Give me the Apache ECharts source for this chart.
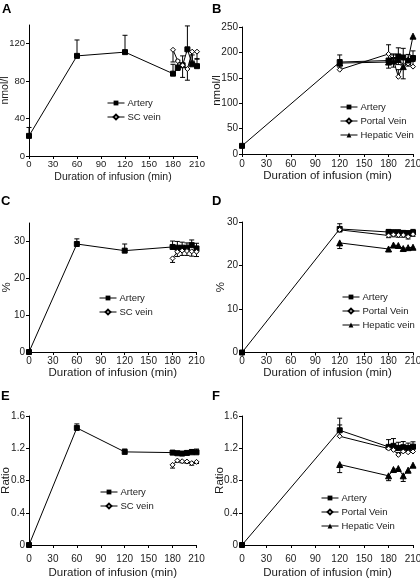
<!DOCTYPE html>
<html><head><meta charset="utf-8">
<script src="https://cdn.jsdelivr.net/npm/echarts@6/dist/echarts.min.js"></script>
<style>html,body{margin:0;padding:0;background:#fff}#c{width:420px;height:578px}</style>
</head><body><div id="c"></div>
<script>
// ---- time points (min) ----
const tArt3 = [0, 60, 120, 180, 186, 192, 198, 204, 210];
const tVein3 = [180, 186, 192, 198, 204, 210];
const tArtPV = [0, 120, 180, 186, 192, 198, 204, 210];
const tVeinPV = [120, 180, 186, 192, 198, 204, 210];

// ---- Panel A (nmol/l) ----
const A_artery = [21.5, 107, 111, 88, 94.5, 97, 114, 98, 96];
const A_artery_err = [9, 17, 18, 10, 8, 10, 25, 10, 8];
const A_sc = [113.5, 101.5, 97, 93, 111.5, 111.5];
const A_sc_err = [13, 10, 13, 12, 10, 8];

// ---- Panel B (nmol/l) ----
const B_artery = [16, 181, 184, 185, 192, 190, 181, 189];
const B_artery_err = [0, 14, 12, 10, 17, 18, 15, 14];
const B_portal = [166, 197, 185, 152, 175, 178, 172];
const B_portal_err = [8, 18, 12, 14, 12, 10, 10];
const B_hepatic = [179, 181, 183, 186, 172, 185, 232];
const B_hepatic_err = [8, 12, 12, 10, 24, 12, 0];

// ---- Panel C (%) ----
const C_artery = [0, 29.3, 27.5, 28.5, 28.3, 28.3, 28.3, 29.0, 28.1];
const C_artery_err = [0, 1.4, 1.8, 1.6, 1.7, 1.5, 1.3, 1.4, 1.4];
const C_sc = [25.4, 27.2, 27.5, 27.4, 27.3, 27.2];
const C_sc_err = [1.1, 1.3, 1.3, 1.2, 1.3, 1.3];

// ---- Panel D (%) ----
const D_artery = [0, 28.4, 27.7, 27.6, 27.6, 27.5, 27.4, 27.6];
const D_artery_err = [0, 1.2, 0.6, 0.6, 0.6, 0.5, 0.6, 0.7];
const D_portal = [28.2, 26.9, 27.1, 27.0, 27.0, 26.6, 27.2];
const D_portal_err = [0.5, 0.5, 0.5, 0.5, 0.5, 0.5, 0.5];
const D_hepatic = [25.2, 23.8, 24.7, 24.6, 23.9, 24.1, 24.2];
const D_hepatic_err = [1.3, 0.6, 0.4, 0.4, 0.5, 0.4, 0.4];

// ---- Panel E (Ratio) ----
const E_artery = [0, 1.452, 1.155, 1.146, 1.138, 1.134, 1.142, 1.15, 1.15];
const E_artery_err = [0, 0.05, 0.035, 0.025, 0.025, 0.025, 0.025, 0.035, 0.04];
const E_sc = [0.994, 1.047, 1.039, 1.035, 1.015, 1.031];
const E_sc_err = [0.04, 0.02, 0.02, 0.02, 0.025, 0.02];

// ---- Panel F (Ratio) ----
const F_artery = [0, 1.423, 1.217, 1.23, 1.204, 1.213, 1.204, 1.22];
const F_artery_err = [0, 0.15, 0.09, 0.09, 0.07, 0.07, 0.06, 0.06];
const F_portal = [1.349, 1.196, 1.18, 1.118, 1.16, 1.15, 1.16];
const F_portal_err = [0.14, 0.03, 0.03, 0.03, 0.03, 0.03, 0.03];
const F_hepatic = [0.998, 0.858, 0.936, 0.949, 0.858, 0.928, 0.99];
const F_hepatic_err = [0.1, 0.06, 0.02, 0.02, 0.07, 0.02, 0.02];

const FONT = 'Liberation Sans, Arial, Helvetica, sans-serif';
const INK = '#1a1a1a';

function pairs(t, v) { return t.map((x, i) => [x, v[i]]); }
function errs(t, v, e, dir) { return t.map((x, i) => [x, v[i], v[i] + dir * e[i]]).filter(d => d[1] !== d[2]); }

function renderErr(params, api) {
  const x = api.value(0), v = api.value(1), end = api.value(2);
  const a = api.coord([x, v]), b = api.coord([x, end]);
  return { type: 'group', children: [
    { type: 'line', shape: { x1: a[0], y1: a[1], x2: b[0], y2: b[1] }, style: { stroke: '#000', lineWidth: 1 } },
    { type: 'line', shape: { x1: b[0] - 2.5, y1: b[1], x2: b[0] + 2.5, y2: b[1] }, style: { stroke: '#000', lineWidth: 1 } }
  ] };
}

const MARK = {
  sq: { symbol: 'rect', symbolSize: 5, itemStyle: { color: '#000', borderColor: '#000' } },
  dia: { symbol: 'diamond', symbolSize: 5, itemStyle: { color: '#fff', borderColor: '#000', borderWidth: 1 } },
  tri: { symbol: 'triangle', symbolSize: 6, itemStyle: { color: '#000', borderColor: '#000' } }
};

const panels = [
  { letter: 'A', lx: 2, ly: 3, grid: { left: 29, top: 25, width: 168, height: 131 }, ymax: 140, yint: 40, yname: 'nmol/l', yGap: 18, xGap: 15.5, xMargin: 3, fs: 10.5, tfs: 9.5,
    legend: { left: 107, top: 98 },
    series: [
      { name: 'Artery', t: tArt3, v: A_artery, e: A_artery_err, dir: 1, m: 'sq' },
      { name: 'SC vein', t: tVein3, v: A_sc, e: A_sc_err, dir: -1, m: 'dia' }
    ] },
  { letter: 'B', lx: 212, ly: 3, grid: { left: 242, top: 27, width: 171, height: 127 }, ymax: 250, yint: 50, yname: 'nmol/l', yGap: 19.5, xGap: 16, xMargin: 5, fs: 11.5, tfs: 10,
    legend: { left: 340, top: 102 },
    series: [
      { name: 'Artery', t: tArtPV, v: B_artery, e: B_artery_err, dir: 1, m: 'sq' },
      { name: 'Portal Vein', t: tVeinPV, v: B_portal, e: B_portal_err, dir: 1, m: 'dia' },
      { name: 'Hepatic Vein', t: tVeinPV, v: B_hepatic, e: B_hepatic_err, dir: -1, m: 'tri' }
    ] },
  { letter: 'C', lx: 1, ly: 195, grid: { left: 29, top: 223, width: 167.5, height: 129 }, ymax: 35, yint: 10, yname: '%', yGap: 16, xGap: 15, xMargin: 4, fs: 11.5, tfs: 10,
    legend: { left: 99, top: 293 },
    series: [
      { name: 'Artery', t: tArt3, v: C_artery, e: C_artery_err, dir: 1, m: 'sq' },
      { name: 'SC vein', t: tVein3, v: C_sc, e: C_sc_err, dir: -1, m: 'dia' }
    ] },
  { letter: 'D', lx: 212, ly: 195, grid: { left: 242, top: 222, width: 171, height: 130.5 }, ymax: 30, yint: 10, yname: '%', yGap: 15, xGap: 14.5, xMargin: 4, fs: 11.5, tfs: 10,
    legend: { left: 342, top: 292 },
    series: [
      { name: 'Artery', t: tArtPV, v: D_artery, e: D_artery_err, dir: 1, m: 'sq' },
      { name: 'Portal Vein', t: tVeinPV, v: D_portal, e: D_portal_err, dir: -1, m: 'dia' },
      { name: 'Hepatic vein', t: tVeinPV, v: D_hepatic, e: D_hepatic_err, dir: -1, m: 'tri' }
    ] },
  { letter: 'E', lx: 1, ly: 390, grid: { left: 29, top: 416, width: 167.5, height: 129 }, ymax: 1.6, yint: 0.4, yname: 'Ratio', yGap: 17.5, xGap: 21.5, xMargin: 9, fs: 11.5, tfs: 10,
    legend: { left: 100, top: 487 },
    series: [
      { name: 'Artery', t: tArt3, v: E_artery, e: E_artery_err, dir: 1, m: 'sq' },
      { name: 'SC vein', t: tVein3, v: E_sc, e: E_sc_err, dir: -1, m: 'dia' }
    ] },
  { letter: 'F', lx: 212, ly: 390, grid: { left: 242, top: 416, width: 171, height: 129 }, ymax: 1.6, yint: 0.4, yname: 'Ratio', yGap: 16, xGap: 21.5, xMargin: 9, fs: 11.5, tfs: 10,
    legend: { left: 321, top: 493 },
    series: [
      { name: 'Artery', t: tArtPV, v: F_artery, e: F_artery_err, dir: 1, m: 'sq' },
      { name: 'Portal Vein', t: tVeinPV, v: F_portal, e: F_portal_err, dir: 1, m: 'dia' },
      { name: 'Hepatic Vein', t: tVeinPV, v: F_hepatic, e: F_hepatic_err, dir: -1, m: 'tri' }
    ] }
];

const option = { animation: false, backgroundColor: '#fff', textStyle: { fontFamily: FONT },
  grid: [], xAxis: [], yAxis: [], series: [], legend: [], title: [] };

panels.forEach((p, gi) => {
  option.grid.push(Object.assign({ containLabel: false, outerBoundsMode: 'none' }, p.grid));
  option.title.push({ text: p.letter, left: p.lx, top: p.ly, padding: 0,
    textStyle: { fontFamily: FONT, fontWeight: 'bold', fontSize: 13, color: '#000' } });
  option.xAxis.push({ type: 'value', gridIndex: gi, min: 0, max: 210, interval: 30,
    name: 'Duration of infusion (min)', nameLocation: 'middle', nameGap: p.xGap, nameMoveOverlap: false,
    nameTextStyle: { fontFamily: FONT, fontSize: p.fs, color: INK },
    axisLine: { lineStyle: { color: '#000', width: 1 } },
    axisTick: { show: true, inside: false, length: 3, lineStyle: { color: '#000' } },
    axisLabel: { fontFamily: FONT, fontSize: p.tfs, color: INK, margin: p.xMargin },
    splitLine: { show: false } });
  const exact = Math.abs((p.ymax / p.yint) - Math.round(p.ymax / p.yint)) < 1e-9;
  option.yAxis.push({ type: 'value', gridIndex: gi, min: 0, max: p.ymax, interval: p.yint,
    name: p.yname, nameLocation: 'middle', nameGap: p.yGap, nameRotate: 90, nameMoveOverlap: false,
    nameTextStyle: { fontFamily: FONT, fontSize: p.fs, color: INK },
    axisLine: { show: true, lineStyle: { color: '#000', width: 1 } },
    axisTick: { show: true, inside: false, length: 3, lineStyle: { color: '#000' } },
    axisLabel: { fontFamily: FONT, fontSize: p.tfs, color: INK, margin: 4, showMaxLabel: exact },
    splitLine: { show: false } });
  p.series.forEach(s => {
    option.series.push({ type: 'custom', xAxisIndex: gi, yAxisIndex: gi, renderItem: renderErr,
      encode: { x: 0, y: [1, 2] }, data: errs(s.t, s.v, s.e, s.dir), z: 1, silent: true });
  });
  p.series.forEach(s => {
    option.series.push(Object.assign({ type: 'line', name: s.name, xAxisIndex: gi, yAxisIndex: gi,
      data: pairs(s.t, s.v), lineStyle: { color: '#000', width: 1 }, showSymbol: true, z: 3 }, MARK[s.m]));
  });
  option.legend.push({ orient: 'vertical', left: p.legend.left, top: p.legend.top, padding: 0,
    itemWidth: 17, itemHeight: 6, itemGap: 4,
    lineStyle: { width: 1 },
    data: p.series.map(s => s.name),
    textStyle: { fontFamily: FONT, fontSize: 9.5, color: INK, padding: [0, 0, 0, -2] } });
});

const chart = echarts.init(document.getElementById('c'), null, { renderer: 'canvas' });
chart.setOption(option);
</script></body></html>
